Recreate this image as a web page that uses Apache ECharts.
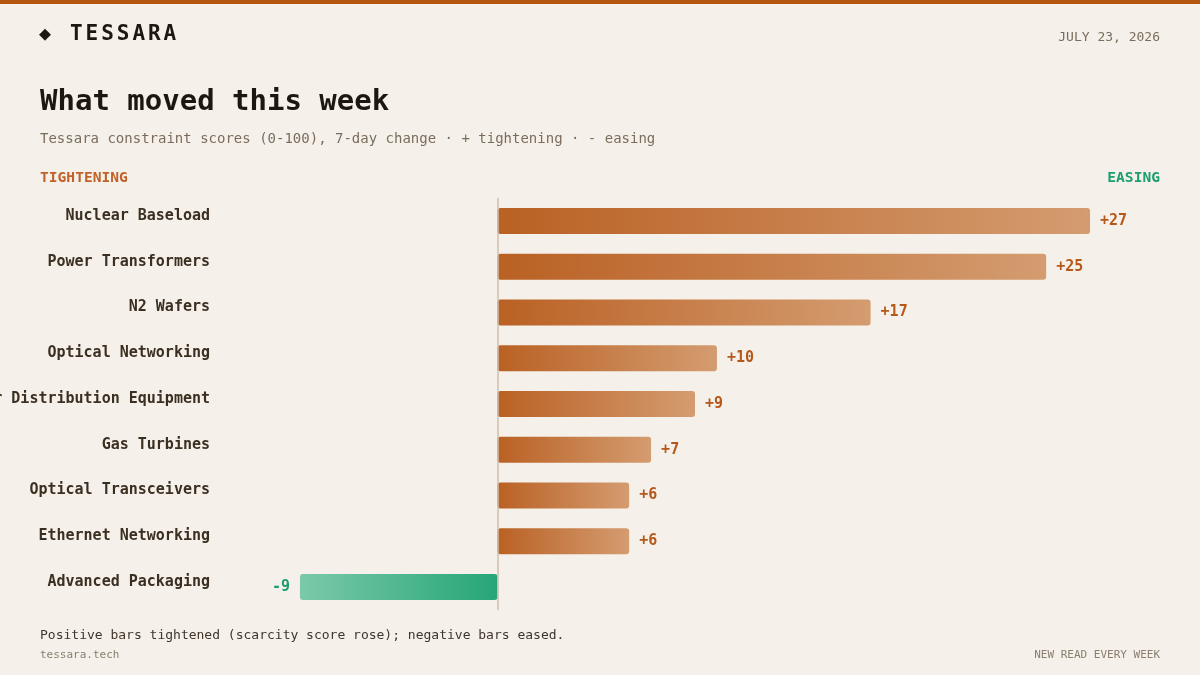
<!DOCTYPE html>
<html>
<head>
<meta charset="utf-8">
<script src="https://cdn.jsdelivr.net/npm/echarts@6/dist/echarts.min.js"></script>
<style>
  html, body { margin: 0; padding: 0; background: #F5F1EA; }
  #chart { width: 1200px; height: 675px; }
</style>
</head>
<body>
<div id="chart"></div>
<script>
// categories top -> bottom, 7-day change in constraint score
var categories = [
  'Nuclear Baseload',
  'Power Transformers',
  'N2 Wafers',
  'Optical Networking',
  'Power Distribution Equipment',
  'Gas Turbines',
  'Optical Transceivers',
  'Ethernet Networking',
  'Advanced Packaging'
]
var changes = [27, 25, 17, 10, 9, 7, 6, 6, -9]

var MONO = '"DejaVu Sans Mono", monospace'
var ORANGE = '#B5581A'
var GREEN = '#1E9E6E'

var chart = echarts.init(document.getElementById('chart'))

var barData = changes.map(function (v) {
  var up = v >= 0
  return {
    value: v,
    itemStyle: {
      borderRadius: 3,
      color: new echarts.graphic.LinearGradient(0, 0, 1, 0, up ? [
        { offset: 0, color: '#BA6124' },
        { offset: 1, color: '#D49C70' }
      ] : [
        { offset: 0, color: '#7BC9A9' },
        { offset: 1, color: '#26A678' }
      ])
    },
    label: {
      position: up ? 'right' : 'left',
      color: up ? ORANGE : GREEN
    }
  }
})

// brand name, spaced out letter by letter
var brand = 'TESSARA'.split('').map(function (ch, i) {
  return {
    type: 'text', x: 70 + i * 15.6, y: 35,
    style: { text: ch, font: 'bold 21px ' + MONO, fill: '#1E1710', verticalAlign: 'middle' }
  }
})

chart.setOption({
  backgroundColor: '#F5F1EA',
  animation: false,
  grid: {
    left: 278,
    right: 88,
    top: 198,
    bottom: 65,
    containLabel: false,
    outerBoundsMode: 'none'
  },
  xAxis: {
    type: 'value',
    min: -10,
    max: 28,
    show: false
  },
  yAxis: {
    type: 'category',
    data: categories,
    inverse: true,
    axisLine: { show: false },
    axisTick: { show: false },
    splitLine: { show: false },
    axisLabel: {
      margin: 68,
      fontFamily: MONO,
      fontWeight: 'bold',
      fontSize: 15,
      color: '#3B2F22',
      verticalAlign: 'bottom',
      lineHeight: 10
    }
  },
  series: [{
    type: 'bar',
    barWidth: 26,
    data: barData,
    label: {
      show: true,
      distance: 10,
      fontFamily: MONO,
      fontWeight: 'bold',
      fontSize: 15,
      formatter: function (p) {
        return (p.value > 0 ? '+' : '') + p.value
      }
    },
    markLine: {
      silent: true,
      symbol: 'none',
      label: { show: false },
      lineStyle: { color: '#CDBFAD', width: 1.5, type: 'solid' },
      data: [{ xAxis: 0 }]
    }
  }],
  graphic: [
    { type: 'rect', left: 0, top: 0, shape: { width: 1200, height: 4 }, style: { fill: '#B5560F' } },
    { type: 'text', x: 39, y: 35, style: { text: '◆', font: 'bold 20px ' + MONO, fill: '#1E1710', verticalAlign: 'middle' } },
    { type: 'text', x: 1160, y: 38, style: { text: 'JULY 23, 2026', font: '13px ' + MONO, fill: '#7A6D5D', align: 'right', verticalAlign: 'middle' } },
    { type: 'text', x: 40, y: 102, style: { text: 'What moved this week', font: 'bold 29px ' + MONO, fill: '#1E1710', verticalAlign: 'middle' } },
    { type: 'text', x: 40, y: 139, style: { text: 'Tessara constraint scores (0-100), 7-day change · + tightening · - easing', font: '14px ' + MONO, fill: '#7A6D5D', verticalAlign: 'middle' } },
    { type: 'text', x: 40, y: 178, style: { text: 'TIGHTENING', font: 'bold 14.6px ' + MONO, fill: '#C0622A', verticalAlign: 'middle' } },
    { type: 'text', x: 1160, y: 178, style: { text: 'EASING', font: 'bold 14.6px ' + MONO, fill: '#1E9E6E', align: 'right', verticalAlign: 'middle' } },
    { type: 'text', x: 40, y: 636, style: { text: 'Positive bars tightened (scarcity score rose); negative bars eased.', font: '13px ' + MONO, fill: '#3F352B', verticalAlign: 'middle' } },
    { type: 'text', x: 40, y: 655, style: { text: 'tessara.tech', font: '11px ' + MONO, fill: '#8A7E6E', verticalAlign: 'middle' } },
    { type: 'text', x: 1160, y: 655, style: { text: 'NEW READ EVERY WEEK', font: '11px ' + MONO, fill: '#8A7E6E', align: 'right', verticalAlign: 'middle' } }
  ].concat(brand)
})
</script>
</body>
</html>
